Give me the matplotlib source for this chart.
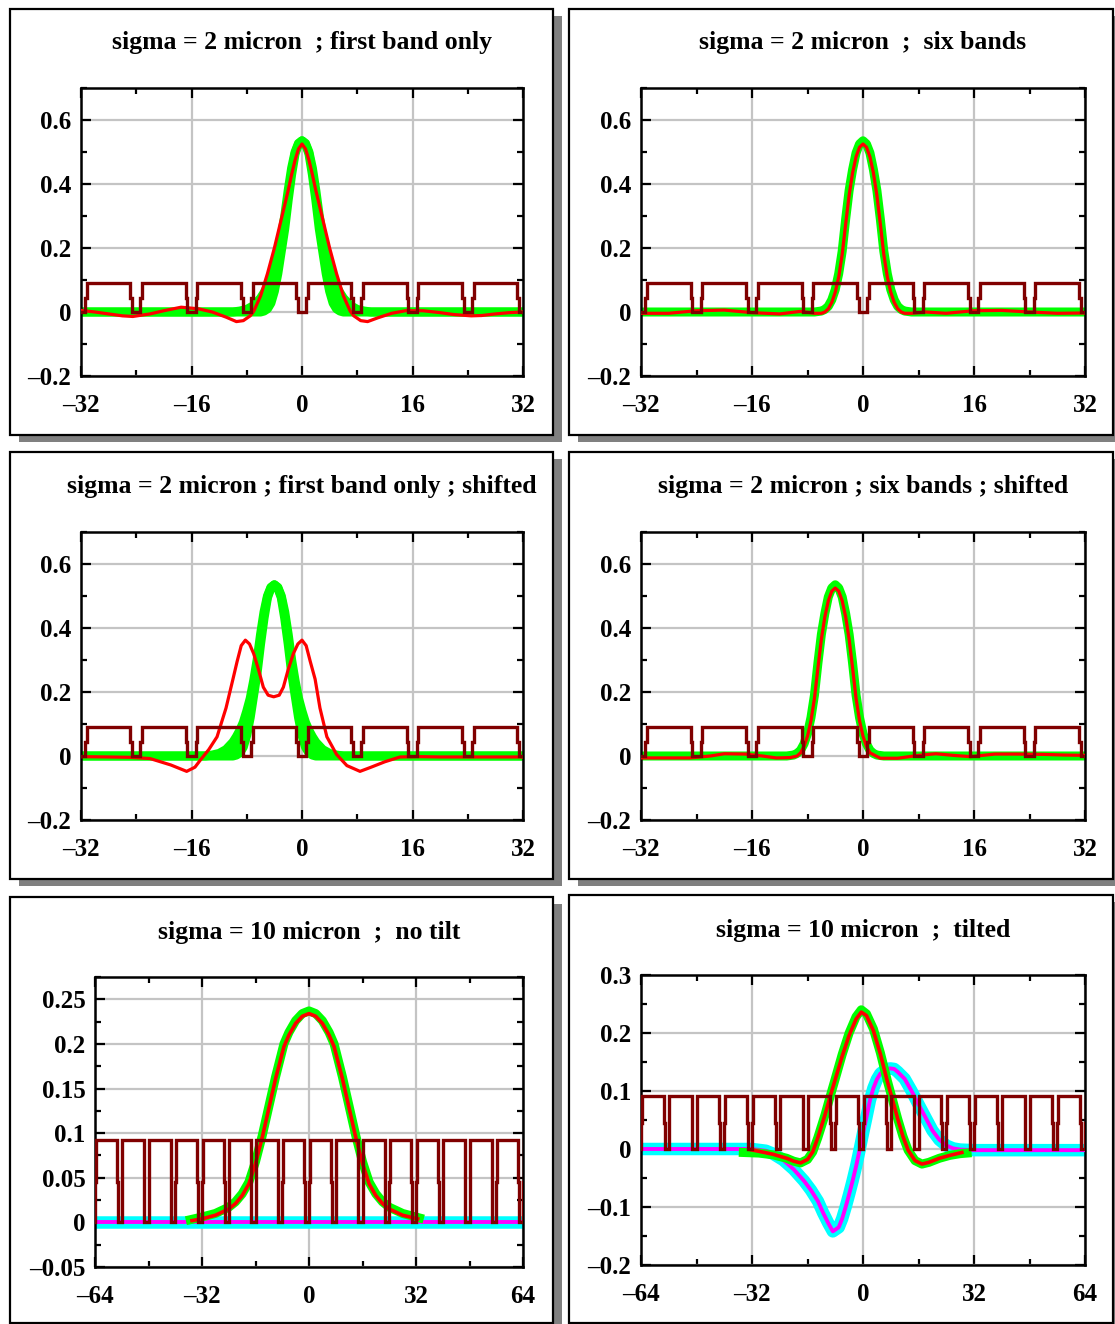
import matplotlib
matplotlib.use("Agg")
import matplotlib.pyplot as plt
from matplotlib.patches import Rectangle
from matplotlib.ticker import MultipleLocator, FixedLocator

plt.rcParams.update({
    "font.family": ["Liberation Serif", "DejaVu Serif"],
    "font.weight": "bold",
    "font.size": 18,
})

W, H = 1115, 1324

GREEN = "#00ff00"
RED = "#ff0000"
MAROON = "#800000"
CYAN = "#00ffff"
MAGENTA = "#ff00ff"

# ---------------- data ----------------
titles = [
    "sigma = 2 micron  ; first band only",
    "sigma = 2 micron  ;  six bands",
    "sigma = 2 micron ; first band only ; shifted",
    "sigma = 2 micron ; six bands ; shifted",
    "sigma = 10 micron  ;  no tilt",
    "sigma = 10 micron  ;  tilted",
]

# pixel grating (dark red comb): notch centres, levels
comb_top_centres = [-32, -24, -16, -8, 0, 8, 16, 24, 32]
comb_bot_centres = [-64.6, -56.6, -48.6, -40.6, -32.6, -24.6, -16.6, -8.6, -0.6,
                    7.4, 15.4, 23.4, 31.4, 39.4, 47.4, 55.4, 63.4]
comb_high = 0.092
comb_mid = 0.045

# first band only: green band (inner / outer edge), offsets from the peak
band_dx = [-10, -9, -8, -7, -6, -5.5, -5, -4.5, -4, -3.5, -3, -2.5, -2, -1.5, -1, -0.5, 0,
           0.5, 1, 1.5, 2, 2.5, 3, 3.5, 4, 4.5, 5, 5.5, 6, 7, 8, 9, 10]
band_inner = [0, 0, 0, 0, 0, 0.003, 0.01, 0.028, 0.065, 0.12, 0.19, 0.26, 0.35, 0.43, 0.495, 0.525, 0.535,
              0.525, 0.495, 0.43, 0.35, 0.26, 0.19, 0.12, 0.065, 0.028, 0.01, 0.003, 0, 0, 0, 0, 0]
band_outer = [0, 0.003, 0.008, 0.02, 0.043, 0.06, 0.08, 0.105, 0.14, 0.18, 0.235, 0.30, 0.38, 0.45, 0.50, 0.527, 0.535,
              0.527, 0.50, 0.45, 0.38, 0.30, 0.235, 0.18, 0.14, 0.105, 0.08, 0.06, 0.043, 0.02, 0.008, 0.003, 0]
band_centres = [0, -4]

# six bands: green peak, offsets from the peak
six_dx = [-8, -7, -6, -5.5, -5, -4.5, -4, -3.5, -3, -2.5, -2, -1.5, -1, -0.5, 0,
          0.5, 1, 1.5, 2, 2.5, 3, 3.5, 4, 4.5, 5, 5.5, 6, 7, 8]
six_green = [0, 0, 0.003, 0.008, 0.018, 0.038, 0.07, 0.12, 0.19, 0.29, 0.38, 0.445, 0.497, 0.525, 0.535,
             0.525, 0.497, 0.445, 0.38, 0.29, 0.19, 0.12, 0.07, 0.038, 0.018, 0.008, 0.003, 0, 0]
six_centres = [0, -4]

# red curves
red1_x = [-32, -30, -28, -26, -24.5, -22, -20, -17.5, -15, -13, -11, -9.5, -8.5, -7.5, -7, -6, -5, -4,
          -3, -2, -1.5, -1, -0.5, 0, 0.5, 1, 1.5, 2, 3, 4, 5, 6, 7, 7.5, 8.5, 9.5, 11, 13, 15,
          17.5, 20, 22, 24.5, 26, 28, 30, 32]
red1_v = [0.005, 0.0, -0.006, -0.012, -0.014, -0.006, 0.004, 0.015, 0.01, 0.0, -0.016, -0.03, -0.027, -0.012,
          0.002, 0.05, 0.12, 0.20, 0.29, 0.38, 0.43, 0.475, 0.51, 0.525, 0.51, 0.475, 0.43, 0.38, 0.29, 0.20,
          0.12, 0.05, 0.002, -0.012, -0.027, -0.03, -0.018, -0.004, 0.004, 0.004, -0.002, -0.008, -0.012,
          -0.011, -0.006, -0.002, 0.0]

red2_x = [-32, -28, -24, -20, -16, -12, -9, -7, -6, -5.5, -5, -4.5, -4, -3.5, -3, -2.5, -2, -1.5, -1, -0.5,
          0, 0.5, 1, 1.5, 2, 2.5, 3, 3.5, 4, 4.5, 5, 5.5, 6, 7, 9, 12, 16, 20, 24, 28, 32]
red2_v = [-0.004, -0.004, 0.004, 0.006, -0.002, -0.006, 0.002, -0.004, -0.004, 0.0, 0.01, 0.03, 0.062, 0.11,
          0.18, 0.275, 0.365, 0.435, 0.485, 0.515, 0.525, 0.515, 0.485, 0.435, 0.365, 0.275, 0.18, 0.11,
          0.062, 0.03, 0.01, 0.0, -0.004, -0.004, 0.0, -0.004, 0.004, 0.005, 0.0, -0.004, -0.003]

red3_x = [-32, -28, -25, -22, -19, -16.7, -15.5, -14.8, -13.5, -12.3, -11, -10, -9.4, -8.8, -8.2, -7.6, -7,
          -6.3, -5.6, -4.9, -4.1, -3.3, -2.7, -2, -1.25, -0.6, 0, 0.6, 1.2, 1.9, 2.6, 3.6, 5, 6.5, 8.4,
          10, 12, 14.2, 17, 20, 24, 28, 32]
red3_v = [-0.002, -0.003, -0.004, -0.008, -0.028, -0.048, -0.035, -0.015, 0.02, 0.06, 0.15, 0.24, 0.295,
          0.345, 0.362, 0.35, 0.32, 0.27, 0.215, 0.19, 0.185, 0.19, 0.215, 0.27, 0.32, 0.35, 0.362, 0.345,
          0.295, 0.24, 0.15, 0.06, 0.005, -0.03, -0.048, -0.035, -0.018, -0.003, -0.002, -0.003, -0.003,
          -0.003, -0.003]

red4_x = [-32, -25, -22, -20, -17, -14.5, -12.5, -10.5, -9.5, -9, -8.5, -8, -7.5, -7, -6.5, -6, -5.5, -5,
          -4.5, -4, -3.5, -3, -2.5, -2, -1.5, -1, -0.5, 0, 0.5, 1, 2.5, 5, 8, 10.5, 13, 15.5, 19, 22, 26,
          29, 32]
red4_v = [-0.006, -0.006, 0.0, 0.007, 0.006, 0.0, -0.006, -0.005, 0.0, 0.01, 0.03, 0.062, 0.11, 0.18,
          0.275, 0.365, 0.435, 0.485, 0.515, 0.525, 0.515, 0.485, 0.435, 0.365, 0.275, 0.18, 0.11, 0.062,
          0.03, 0.01, -0.007, -0.007, 0.002, 0.007, 0.002, -0.002, 0.006, 0.006, 0.005, 0.003, 0.002]

# sigma = 10 micron, no tilt
green5_x = [-35.5, -32, -28, -24, -22, -20, -18, -16, -14, -12, -10, -7.5, -6, -4, -2, 0,
            2, 4, 6, 7.5, 10, 12, 14, 16, 18, 20, 22, 24, 28, 32, 33]
green5_v = [0.003, 0.006, 0.010, 0.017, 0.023, 0.032, 0.045, 0.068, 0.097, 0.13, 0.163, 0.2, 0.213, 0.226,
            0.234, 0.237, 0.234, 0.226, 0.213, 0.2, 0.163, 0.13, 0.097, 0.068, 0.045, 0.032, 0.023, 0.017,
            0.010, 0.006, 0.005]
red5_x = [-35, -32, -28, -24, -22, -20, -18, -16, -14, -12, -10, -7.5, -6, -4, -2, 0,
          2, 4, 6, 7.5, 10, 12, 14, 16, 18, 20, 22, 24, 28, 32.5]
red5_v = [0.002, 0.004, 0.008, 0.015, 0.021, 0.030, 0.043, 0.066, 0.095, 0.128, 0.161, 0.197, 0.21, 0.223,
          0.231, 0.234, 0.231, 0.223, 0.21, 0.197, 0.161, 0.128, 0.095, 0.066, 0.043, 0.030, 0.021, 0.015,
          0.008, 0.004]
flat_x = [-64, 64]
flat_v = [0.0, 0.0]

# sigma = 10 micron, tilted
green6_x = [-34.5, -30, -26, -22, -20, -18, -16, -14.5, -13, -11, -9.5, -8, -6, -4, -2, -0.5, 1, 3, 5, 7,
            8.5, 10, 11.5, 13, 15, 17, 19, 22, 25, 28, 30]
green6_v = [-0.006, -0.007, -0.010, -0.016, -0.021, -0.024, -0.018, -0.005, 0.02, 0.058, 0.09, 0.121,
            0.163, 0.2, 0.228, 0.24, 0.233, 0.207, 0.166, 0.118, 0.085, 0.052, 0.022, -0.002, -0.02,
            -0.026, -0.023, -0.016, -0.011, -0.008, -0.007]
red6_x = [-32.5, -30, -26, -22, -20, -18, -16, -14.5, -13, -11, -9.5, -8, -6, -4, -2, -0.5, 1, 3, 5, 7,
          8.5, 10, 11.5, 13, 15, 17, 19, 22, 25, 28.5]
red6_v = [-0.001, -0.004, -0.009, -0.016, -0.021, -0.024, -0.018, -0.005, 0.02, 0.058, 0.09, 0.12, 0.16,
          0.196, 0.224, 0.236, 0.23, 0.204, 0.164, 0.117, 0.085, 0.052, 0.022, -0.002, -0.02, -0.026,
          -0.023, -0.016, -0.011, -0.006]
tilt_x = [-64, -40, -32, -28, -26, -23, -20, -17, -15, -13, -11.5, -10, -8.7, -7, -6, -5, -4, -3, -2, -1,
          0, 1, 2, 3, 4, 5, 6.5, 7.8, 9, 10, 12, 14, 16, 18.4, 20, 22, 24, 26, 28, 32, 40, 64]
tilt_v = [0, 0, 0, -0.003, -0.008, -0.019, -0.035, -0.055, -0.071, -0.09, -0.11, -0.128, -0.142, -0.135,
          -0.12, -0.1, -0.078, -0.055, -0.03, -0.002, 0.027, 0.055, 0.084, 0.105, 0.12, 0.13, 0.137, 0.139,
          0.138, 0.133, 0.121, 0.1, 0.077, 0.05, 0.032, 0.016, 0.006, 0.001, -0.001, -0.002, -0.002, -0.002]

# axis ticks / labels
top_xticks = [-32, -16, 0, 16, 32]
bot_xticks = [-64, -32, 0, 32, 64]
top_yticks = [-0.2, 0, 0.2, 0.4, 0.6]
top_ylabels = ["\u20130.2", "0", "0.2", "0.4", "0.6"]
p5_yticks = [-0.05, 0, 0.05, 0.1, 0.15, 0.2, 0.25]
p5_ylabels = ["\u20130.05", "0", "0.05", "0.1", "0.15", "0.2", "0.25"]
p6_yticks = [-0.2, -0.1, 0, 0.1, 0.2, 0.3]
p6_ylabels = ["\u20130.2", "\u20130.1", "0", "0.1", "0.2", "0.3"]

# ---------------- layout (pixels) ----------------
boxes = [(10, 9, 553, 435), (569, 9, 1113, 435),
         (10, 452, 553, 879), (569, 452, 1113, 879),
         (10, 897, 553, 1323), (569, 895, 1113, 1323)]
axes_px = [(81, 88, 523, 376), (641, 88, 1085, 376),
           (81, 532, 523, 820), (641, 532, 1085, 820),
           (95, 977, 523, 1267), (641, 975, 1085, 1265)]
title_y = [42, 42, 486, 486, 932, 930]

fig = plt.figure(figsize=(W / 100, H / 100), dpi=100)


def add_box(x0, y0, x1, y1):
    fig.patches.append(Rectangle(((x0 + 9) / W, 1 - (y1 + 7) / H), (x1 - x0) / W, (y1 - y0) / H,
                                 transform=fig.transFigure, facecolor="#808080", edgecolor="none", zorder=0))
    fig.patches.append(Rectangle((x0 / W, 1 - y1 / H), (x1 - x0) / W, (y1 - y0) / H,
                                 transform=fig.transFigure, facecolor="white", edgecolor="black",
                                 linewidth=1.6, zorder=1))


def comb(ax, centres, outer, inner, lw):
    xs, ys = [], []
    for c in centres:
        xs += [c - outer, c - outer, c - inner, c - inner, c + inner, c + inner, c + outer, c + outer]
        ys += [comb_high, comb_mid, comb_mid, 0, 0, comb_mid, comb_mid, comb_high]
    ax.plot(xs, ys, color=MAROON, lw=lw, zorder=6, solid_joinstyle="miter")


def style(ax, xlim, ylim, xticks, xminor, yticks, ylabels, yminor):
    ax.set_xlim(*xlim)
    ax.set_ylim(*ylim)
    ax.xaxis.set_major_locator(FixedLocator(xticks))
    ax.set_xticklabels([str(t).replace("-", "\u2013") for t in xticks])
    ax.xaxis.set_minor_locator(MultipleLocator(xminor))
    ax.yaxis.set_major_locator(FixedLocator(yticks))
    ax.set_yticklabels(ylabels)
    ax.yaxis.set_minor_locator(MultipleLocator(yminor))
    ax.grid(True, which="major", color="#c4c4c4", lw=1.6)
    ax.set_axisbelow(True)
    ax.tick_params(which="both", direction="in", top=True, right=True, width=1.6)
    ax.tick_params(which="major", length=7)
    ax.tick_params(which="minor", length=4)
    ax.tick_params(axis="y", pad=7)
    ax.tick_params(axis="x", pad=13)
    for s in ax.spines.values():
        s.set_linewidth(1.8)


axs = []
for i in range(6):
    add_box(*boxes[i])
    l, t, r, b = axes_px[i]
    ax = fig.add_axes([l / W, 1 - b / H, (r - l) / W, (b - t) / H])
    ax.set_zorder(3)
    axs.append(ax)
    fig.text((l + r) / 2 / W, 1 - title_y[i] / H, titles[i], ha="center", va="center",
             fontsize=18.5, fontweight="bold", zorder=5)

# panels 1 and 3: first band only
for ax, c, rx, rv in [(axs[0], band_centres[0], red1_x, red1_v), (axs[2], band_centres[1], red3_x, red3_v)]:
    bx = [-32] + [c + d for d in band_dx] + [32]
    bi = [0] + band_inner + [0]
    bo = [0] + band_outer + [0]
    ax.fill_between(bx, bi, bo, color=GREEN, lw=0, zorder=2)
    ax.plot(bx, bi, color=GREEN, lw=6.5, zorder=2)
    ax.plot(bx, bo, color=GREEN, lw=6.5, zorder=2)
    ax.plot(rx, rv, color=RED, lw=2.3, zorder=4)
    comb(ax, comb_top_centres, 0.85, 0.6, 2.4)

# panels 2 and 4: six bands
for ax, c, rx, rv in [(axs[1], six_centres[0], red2_x, red2_v), (axs[3], six_centres[1], red4_x, red4_v)]:
    gx = [-32] + [c + d for d in six_dx] + [32]
    gv = [0] + six_green + [0]
    ax.plot(gx, gv, color=GREEN, lw=6.5, zorder=2)
    ax.plot(rx, rv, color=RED, lw=2.3, zorder=4)
    comb(ax, comb_top_centres, 0.85, 0.6, 2.4)

for ax in axs[:4]:
    style(ax, (-32, 32), (-0.2, 0.7), top_xticks, 8, top_yticks, top_ylabels, 0.1)

# panel 5: no tilt
ax = axs[4]
ax.plot(flat_x, flat_v, color=CYAN, lw=9, zorder=2)
ax.plot(flat_x, flat_v, color=MAGENTA, lw=2.8, zorder=3)
ax.plot(green5_x, green5_v, color=GREEN, lw=6.5, zorder=4)
ax.plot(red5_x, red5_v, color=RED, lw=2.6, zorder=5)
comb(ax, comb_bot_centres, 0.8, 0.6, 2.4)
style(ax, (-64, 64), (-0.05, 0.275), bot_xticks, 16, p5_yticks, p5_ylabels, 0.025)

# panel 6: tilted
ax = axs[5]
ax.plot(tilt_x, tilt_v, color=CYAN, lw=9, zorder=2)
ax.plot(tilt_x, tilt_v, color=MAGENTA, lw=2.8, zorder=3)
ax.plot(green6_x, green6_v, color=GREEN, lw=6.5, zorder=4)
ax.plot(red6_x, red6_v, color=RED, lw=2.6, zorder=5)
comb(ax, comb_bot_centres, 0.8, 0.6, 2.4)
style(ax, (-64, 64), (-0.2, 0.3), bot_xticks, 16, p6_yticks, p6_ylabels, 0.05)

fig.savefig("out.png", dpi=100)
